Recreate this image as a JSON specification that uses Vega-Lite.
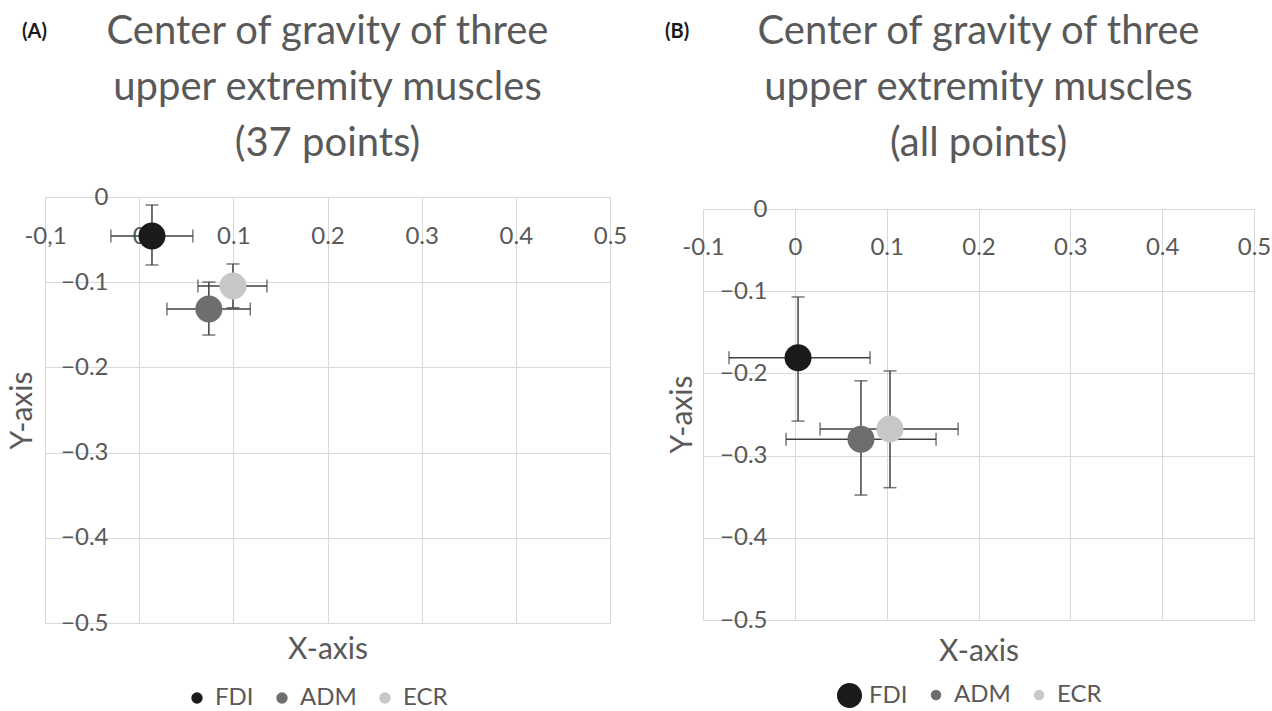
{
  "$schema": "https://vega.github.io/schema/vega-lite/v6.json",
  "padding": {"left": 7, "top": 11, "right": 0, "bottom": 0},
  "spacing": 38,
  "resolve": {"scale": {"color": "independent", "size": "independent"}, "legend": {"color": "independent", "size": "independent"}},
  "config": {
    "font": "Lato",
    "view": {"stroke": null},
    "axis": {"domain": false, "ticks": false, "grid": true, "gridColor": "#d9d9d9", "gridWidth": 1, "labelColor": "#595959", "labelFontSize": 24, "titleColor": "#595959", "titleFontSize": 30, "titleFontWeight": "normal", "labelOverlap": false, "labelFlush": false},
    "legend": {"labelColor": "#595959", "labelFontSize": 24, "symbolType": "circle", "symbolSize": 130, "columnPadding": 16, "labelOffset": 6, "layout": {"bottom": {"anchor": "middle"}}},
    "title": {"color": "#595959", "fontWeight": "normal"}
  },
  "hconcat": [
    {
      "title": {"text": "(A)", "anchor": "start", "fontSize": 20, "fontWeight": "bold", "color": "#1a1a1a", "offset": 0, "dx": 15, "dy": 31},
      "spacing": 0,
      "vconcat": [
        {"width": 10, "height": 1, "data": {"values": []}, "mark": {"type": "point", "opacity": 0}, "encoding": {}},
        {
          "width": 565,
          "height": 426,
          "title": {"text": ["Center of gravity of three", "upper extremity muscles", "(37 points)"], "fontSize": 40, "lineHeight": 56, "offset": 21},
          "data": {"values": [
            {"muscle": "FDI", "x": 0.0136, "y": -0.0458, "xlo": -0.030, "xhi": 0.057, "ylo": -0.0798, "yhi": -0.0094},
            {"muscle": "ADM", "x": 0.074, "y": -0.1315, "xlo": 0.0295, "xhi": 0.118, "ylo": -0.162, "yhi": -0.0998},
            {"muscle": "ECR", "x": 0.0996, "y": -0.1045, "xlo": 0.0624, "xhi": 0.1357, "ylo": -0.130, "yhi": -0.0786}
          ]},
          "resolve": {"axis": {"x": "independent", "y": "independent"}},
          "layer": [
            {
              "mark": {"type": "errorbar", "ticks": true, "size": 13, "thickness": 1.5, "color": "#404040"},
              "encoding": {
                "x": {"field": "xlo", "type": "quantitative", "axis": null, "scale": {"domain": [-0.1, 0.5], "nice": false, "zero": false}},
                "x2": {"field": "xhi"},
                "y": {"field": "y", "type": "quantitative", "axis": null}
              }
            },
            {
              "mark": {"type": "errorbar", "ticks": true, "size": 13, "thickness": 1.5, "color": "#404040"},
              "encoding": {
                "y": {"field": "ylo", "type": "quantitative", "axis": null, "scale": {"domain": [-0.5, 0], "nice": false, "zero": false}},
                "y2": {"field": "yhi"},
                "x": {"field": "x", "type": "quantitative", "axis": null}
              }
            },
            {
              "mark": {"type": "point", "filled": true, "size": 729, "opacity": 1},
              "encoding": {
                "x": {"field": "x", "type": "quantitative", "scale": {"domain": [-0.1, 0.5], "nice": false, "zero": false},
                  "axis": {"orient": "bottom", "offset": -401, "grid": true, "values": [-0.1, 0, 0.1, 0.2, 0.3, 0.4, 0.5], "labelExpr": "datum.value === -0.1 ? '-0,1' : format(datum.value, '.1~f')", "labelPadding": 2, "title": "X-axis", "titleY": 427, "titleBaseline": "middle"}},
                "y": {"field": "y", "type": "quantitative", "scale": {"domain": [-0.5, 0], "nice": false, "zero": false},
                  "axis": {"orient": "left", "offset": -63, "grid": true, "values": [0, -0.1, -0.2, -0.3, -0.4, -0.5], "format": ".1~f", "labelPadding": 0, "title": "Y-axis", "titleX": -86, "titleY": 213, "titleAngle": -90, "titleBaseline": "middle"}},
                "color": {"field": "muscle", "type": "nominal", "scale": {"domain": ["FDI", "ADM", "ECR"], "range": ["#1a1a1a", "#6e6e6e", "#c8c8c8"]},
                  "legend": {"title": null, "orient": "bottom", "direction": "horizontal", "offset": 22}}
              }
            }
          ]
        }
      ]
    },
    {
      "title": {"text": "(B)", "anchor": "start", "fontSize": 20, "fontWeight": "bold", "color": "#1a1a1a", "offset": 0, "dx": -2, "dy": 31},
      "spacing": 0,
      "vconcat": [
        {"width": 10, "height": 1, "data": {"values": []}, "mark": {"type": "point", "opacity": 0}, "encoding": {}},
        {
          "width": 551,
          "height": 411,
          "title": {"text": ["Center of gravity of three", "upper extremity muscles", "(all points)"], "fontSize": 40, "lineHeight": 56, "offset": 33},
          "data": {"values": [
            {"muscle": "FDI", "x": 0.0035, "y": -0.181, "xlo": -0.0717, "xhi": 0.0819, "ylo": -0.258, "yhi": -0.107},
            {"muscle": "ADM", "x": 0.072, "y": -0.280, "xlo": -0.0096, "xhi": 0.1538, "ylo": -0.348, "yhi": -0.209},
            {"muscle": "ECR", "x": 0.1036, "y": -0.2676, "xlo": 0.0275, "xhi": 0.1778, "ylo": -0.339, "yhi": -0.197}
          ]},
          "resolve": {"axis": {"x": "independent", "y": "independent"}},
          "layer": [
            {
              "mark": {"type": "errorbar", "ticks": true, "size": 13, "thickness": 1.5, "color": "#404040"},
              "encoding": {
                "x": {"field": "xlo", "type": "quantitative", "axis": null, "scale": {"domain": [-0.1, 0.5], "nice": false, "zero": false}},
                "x2": {"field": "xhi"},
                "y": {"field": "y", "type": "quantitative", "axis": null}
              }
            },
            {
              "mark": {"type": "errorbar", "ticks": true, "size": 13, "thickness": 1.5, "color": "#404040"},
              "encoding": {
                "y": {"field": "ylo", "type": "quantitative", "axis": null, "scale": {"domain": [-0.5, 0], "nice": false, "zero": false}},
                "y2": {"field": "yhi"},
                "x": {"field": "x", "type": "quantitative", "axis": null}
              }
            },
            {
              "mark": {"type": "point", "filled": true, "size": 729, "opacity": 1},
              "encoding": {
                "x": {"field": "x", "type": "quantitative", "scale": {"domain": [-0.1, 0.5], "nice": false, "zero": false},
                  "axis": {"orient": "bottom", "offset": -387, "grid": true, "values": [-0.1, 0, 0.1, 0.2, 0.3, 0.4, 0.5], "labelExpr": "replace(format(datum.value, '.1~f'), '\u2212', '-')", "labelPadding": 2, "title": "X-axis", "titleY": 418, "titleBaseline": "middle"}},
                "y": {"field": "y", "type": "quantitative", "scale": {"domain": [-0.5, 0], "nice": false, "zero": false},
                  "axis": {"orient": "left", "offset": -64, "grid": true, "values": [0, -0.1, -0.2, -0.3, -0.4, -0.5], "format": ".1~f", "labelPadding": 0, "title": "Y-axis", "titleX": -85, "titleY": 205, "titleAngle": -90, "titleBaseline": "middle"}},
                "color": {"field": "muscle", "type": "nominal", "scale": {"domain": ["FDI", "ADM", "ECR"], "range": ["#1a1a1a", "#6e6e6e", "#c8c8c8"]},
                  "legend": {"title": null, "orient": "bottom", "direction": "horizontal", "offset": 16}}
              }
            },
            {
              "mark": {"type": "text", "clip": true},
              "encoding": {
                "x": {"field": "x", "type": "quantitative", "axis": null},
                "y": {"field": "y", "type": "quantitative", "axis": null},
                "size": {"field": "muscle", "type": "nominal", "scale": {"type": "ordinal", "domain": ["FDI", "ADM", "ECR"], "range": [625, 110, 110]},
                  "legend": {"title": null, "orient": "bottom", "direction": "horizontal", "offset": 16}}
              }
            }
          ]
        }
      ]
    }
  ]
}
